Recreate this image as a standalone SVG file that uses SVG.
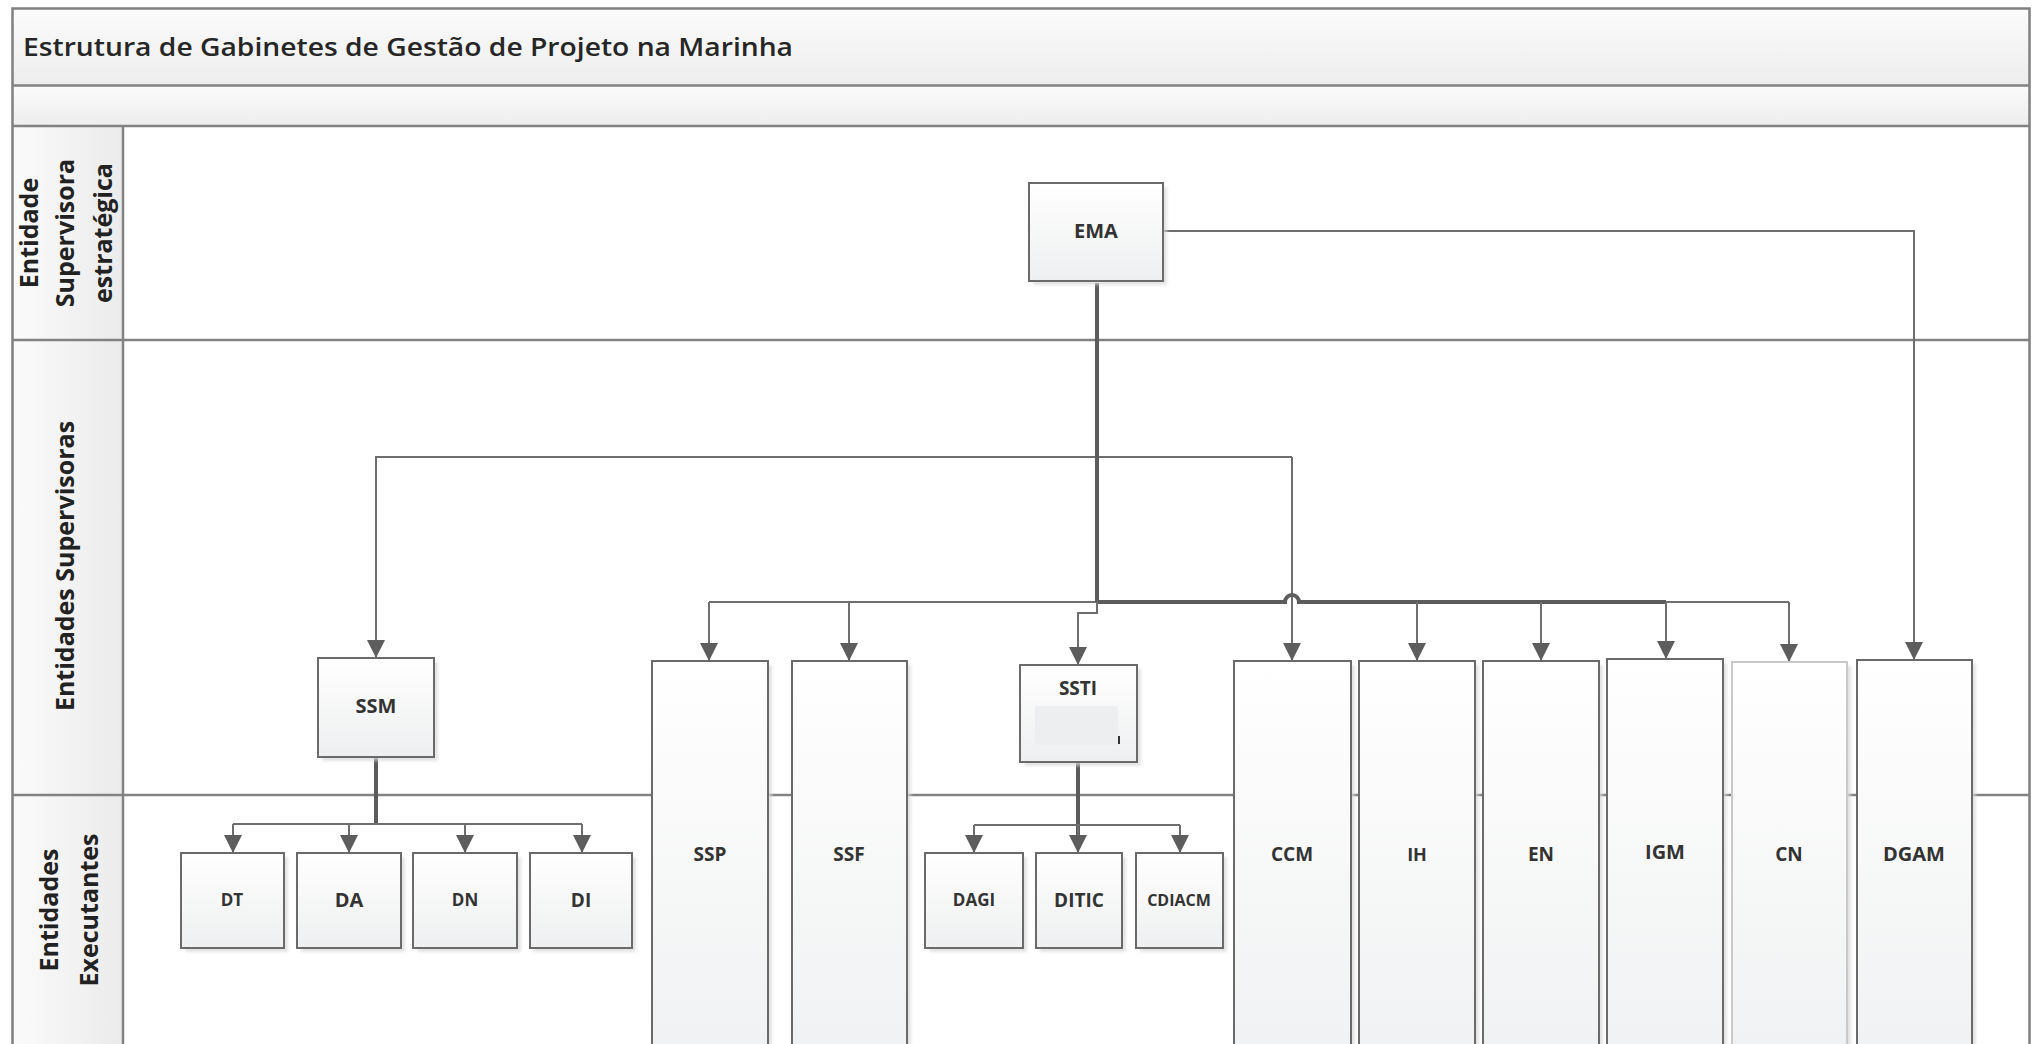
<svg xmlns="http://www.w3.org/2000/svg" width="2033" height="1044" viewBox="0 0 2033 1044">
  <defs>
    <linearGradient id="boxFill" x1="0" y1="0" x2="0" y2="1">
      <stop offset="0" stop-color="#ffffff"/>
      <stop offset="1" stop-color="#eeeff0"/>
    </linearGradient>
    <linearGradient id="tallFill" x1="0" y1="0" x2="0" y2="1">
      <stop offset="0" stop-color="#ffffff"/>
      <stop offset="1" stop-color="#f0f1f2"/>
    </linearGradient>
    <linearGradient id="barFill" x1="0" y1="0" x2="0" y2="1">
      <stop offset="0" stop-color="#fbfbfb"/>
      <stop offset="1" stop-color="#ededed"/>
    </linearGradient>
    <linearGradient id="headFill" x1="0" y1="0" x2="1" y2="0">
      <stop offset="0" stop-color="#fbfbfb"/>
      <stop offset="1" stop-color="#ebebeb"/>
    </linearGradient>
    <marker id="arrow" markerUnits="userSpaceOnUse" markerWidth="18" markerHeight="18" viewBox="0 0 18 18" refX="17" refY="9" orient="auto">
      <path d="M0,0 L18,9 L0,18 Z" fill="#5d5d5d"/>
    </marker>
    <filter id="soft" x="-10%" y="-10%" width="120%" height="120%">
      <feGaussianBlur stdDeviation="1.5"/>
    </filter>
  </defs>
  <style>
    .frame { fill: none; stroke: #808080; stroke-width: 2.5; }
    .lane { stroke: #828282; stroke-width: 2.5; fill: none; }
    .box { fill: url(#boxFill); stroke: #6a6a6a; stroke-width: 2; }
    .tall { fill: url(#tallFill); stroke: #6a6a6a; stroke-width: 2; }
    .faint { stroke: #c9c9c9; }
    .shadow { fill: #d8d8d8; opacity: 0.7; filter: url(#soft); }
    .lbl { font-family: "Open Sans", "DejaVu Sans", sans-serif; font-weight: 700; fill: #333333; text-anchor: middle; }
    .head { font-family: "Open Sans", "DejaVu Sans", sans-serif; font-weight: 700; font-size: 25px; fill: #222222; text-anchor: middle; }
    .title { font-family: "Open Sans", "DejaVu Sans", sans-serif; font-weight: 600; font-size: 26px; fill: #262626; }
    .conn { fill: none; stroke: #6e6e6e; stroke-width: 2; }
    .trunk { fill: none; stroke: #5c5c5c; stroke-width: 4; }
    .arr { marker-end: url(#arrow); }
  </style>

  <rect width="2033" height="1044" fill="#ffffff"/>

  <!-- swimlane frame -->
  <g id="pool">
    <rect x="12.5" y="8.5" width="2017" height="77" fill="url(#barFill)"/>
    <rect x="12.5" y="85.5" width="2017" height="40.5" fill="url(#barFill)"/>
    <rect x="12.5" y="126" width="111" height="930" fill="url(#headFill)"/>
    <rect class="frame" x="12.5" y="8.5" width="2017" height="1050"/>
    <line class="lane" x1="12.5" y1="85.5" x2="2029.5" y2="85.5"/>
    <line class="lane" x1="12.5" y1="126" x2="2029.5" y2="126"/>
    <line class="lane" x1="123" y1="126" x2="123" y2="1058"/>
    <line class="lane" x1="12.5" y1="340" x2="2029.5" y2="340"/>
    <line class="lane" x1="12.5" y1="795" x2="2029.5" y2="795"/>
    <text class="title" x="23" y="56" textLength="770" lengthAdjust="spacingAndGlyphs">Estrutura de Gabinetes de Gestão de Projeto na Marinha</text>
  </g>

  <!-- lane headers -->
  <g id="lane-estrategica">
    <text class="head" transform="translate(38,233) rotate(-90)" font-size="26">Entidade</text>
    <text class="head" transform="translate(74,233) rotate(-90)" font-size="26">Supervisora</text>
    <text class="head" transform="translate(112,233) rotate(-90)" font-size="26">estratégica</text>
  </g>
  <g id="lane-supervisoras">
    <text class="head" transform="translate(74,566) rotate(-90)" font-size="27">Entidades Supervisoras</text>
  </g>
  <g id="lane-executantes">
    <text class="head" transform="translate(58,910) rotate(-90)">Entidades</text>
    <text class="head" transform="translate(98,910) rotate(-90)">Executantes</text>
  </g>

  <!-- connectors -->
  <g id="connectors">
    <!-- EMA to DGAM -->
    <path class="conn arr" d="M1163,231 H1914 V659"/>
    <!-- EMA to SSM (routed over the supervisory lane) -->
    <path class="conn arr" d="M1292,457 H376 V657"/>
    <path class="conn arr" d="M1292,457 V660"/>
    <!-- distribution bus -->
    <path class="conn" d="M709,602 H1097"/>
    <path class="conn" d="M1666,602 H1789"/>
    <path class="trunk" d="M1097,283 V602"/>
    <path class="trunk" d="M1097,602 H1285 A7,7 0 0 1 1299,602 H1666"/>
    <path class="conn arr" d="M709,602 V660"/>
    <path class="conn arr" d="M849,602 V660"/>
    <path class="conn arr" d="M1097,602 V613 H1078 V664"/>
    <path class="conn arr" d="M1417,602 V660"/>
    <path class="conn arr" d="M1541,602 V660"/>
    <path class="conn arr" d="M1666,602 V658"/>
    <path class="conn arr" d="M1789,602 V661"/>
    <!-- SSM to its directorates -->
    <path class="trunk" d="M376,758 V824"/>
    <path class="conn" d="M233,824 H582"/>
    <path class="conn arr" d="M233,824 V852"/>
    <path class="conn arr" d="M349,824 V852"/>
    <path class="conn arr" d="M465,824 V852"/>
    <path class="conn arr" d="M582,824 V852"/>
    <!-- SSTI to its directorates -->
    <path class="trunk" d="M1078,763 V836"/>
    <path class="conn arr" d="M1078,825 V852"/>
    <path class="conn" d="M974,825 H1180"/>
    <path class="conn arr" d="M974,825 V852"/>
    <path class="conn arr" d="M1180,825 V852"/>
  </g>

  <!-- strategic supervisor -->
  <g id="node-EMA">
    <rect class="shadow" x="1033" y="187" width="134" height="98"/>
    <rect class="box" x="1029" y="183" width="134" height="98"/>
    <text class="lbl" x="1096" y="238" font-size="20">EMA</text>
  </g>

  <!-- supervisory entities -->
  <g id="node-SSM">
    <rect class="shadow" x="322" y="662" width="116" height="99"/>
    <rect class="box" x="318" y="658" width="116" height="99"/>
    <text class="lbl" x="376" y="713" font-size="20">SSM</text>
  </g>
  <g id="node-SSTI">
    <rect class="shadow" x="1024" y="669" width="117" height="97"/>
    <rect class="box" x="1020" y="665" width="117" height="97"/>
    <text class="lbl" x="1078" y="695" font-size="19">SSTI</text>
    <rect x="1035" y="706" width="83" height="39" fill="#eceef0"/>
    <rect x="1118" y="736" width="2" height="8" fill="#333333"/>
  </g>

  <!-- tall entities spanning both lanes -->
  <g id="node-SSP">
    <rect class="shadow" x="656" y="665" width="116" height="400"/>
    <rect class="tall" x="652" y="661" width="116" height="400"/>
    <text class="lbl" x="710" y="861" font-size="19">SSP</text>
  </g>
  <g id="node-SSF">
    <rect class="shadow" x="796" y="665" width="115" height="400"/>
    <rect class="tall" x="792" y="661" width="115" height="400"/>
    <text class="lbl" x="849" y="861" font-size="19">SSF</text>
  </g>
  <g id="node-CCM">
    <rect class="shadow" x="1238" y="665" width="117" height="400"/>
    <rect class="tall" x="1234" y="661" width="117" height="400"/>
    <text class="lbl" x="1292" y="861" font-size="19">CCM</text>
  </g>
  <g id="node-IH">
    <rect class="shadow" x="1363" y="665" width="116" height="400"/>
    <rect class="tall" x="1359" y="661" width="116" height="400"/>
    <text class="lbl" x="1417" y="861" font-size="18">IH</text>
  </g>
  <g id="node-EN">
    <rect class="shadow" x="1487" y="665" width="116" height="400"/>
    <rect class="tall" x="1483" y="661" width="116" height="400"/>
    <text class="lbl" x="1541" y="861" font-size="19">EN</text>
  </g>
  <g id="node-IGM">
    <rect class="shadow" x="1611" y="663" width="116" height="400"/>
    <rect class="tall" x="1607" y="659" width="116" height="400"/>
    <text class="lbl" x="1665" y="859" font-size="20">IGM</text>
  </g>
  <g id="node-CN">
    <rect class="shadow" x="1736" y="666" width="115" height="400"/>
    <rect class="tall faint" x="1732" y="662" width="115" height="400"/>
    <text class="lbl" x="1789" y="861" font-size="19">CN</text>
  </g>
  <g id="node-DGAM">
    <rect class="shadow" x="1861" y="664" width="115" height="400"/>
    <rect class="tall" x="1857" y="660" width="115" height="400"/>
    <text class="lbl" x="1914" y="861" font-size="20">DGAM</text>
  </g>

  <!-- executing entities -->
  <g id="node-DT">
    <rect class="shadow" x="185" y="857" width="103" height="95"/>
    <rect class="box" x="181" y="853" width="103" height="95"/>
    <text class="lbl" x="232" y="906" font-size="17">DT</text>
  </g>
  <g id="node-DA">
    <rect class="shadow" x="301" y="857" width="104" height="95"/>
    <rect class="box" x="297" y="853" width="104" height="95"/>
    <text class="lbl" x="349" y="907" font-size="20">DA</text>
  </g>
  <g id="node-DN">
    <rect class="shadow" x="417" y="857" width="104" height="95"/>
    <rect class="box" x="413" y="853" width="104" height="95"/>
    <text class="lbl" x="465" y="906" font-size="17">DN</text>
  </g>
  <g id="node-DI">
    <rect class="shadow" x="534" y="857" width="102" height="95"/>
    <rect class="box" x="530" y="853" width="102" height="95"/>
    <text class="lbl" x="581" y="907" font-size="19">DI</text>
  </g>
  <g id="node-DAGI">
    <rect class="shadow" x="929" y="857" width="98" height="95"/>
    <rect class="box" x="925" y="853" width="98" height="95"/>
    <text class="lbl" x="974" y="906" font-size="17">DAGI</text>
  </g>
  <g id="node-DITIC">
    <rect class="shadow" x="1040" y="857" width="86" height="95"/>
    <rect class="box" x="1036" y="853" width="86" height="95"/>
    <text class="lbl" x="1079" y="907" font-size="19">DITIC</text>
  </g>
  <g id="node-CDIACM">
    <rect class="shadow" x="1140" y="857" width="87" height="95"/>
    <rect class="box" x="1136" y="853" width="87" height="95"/>
    <text class="lbl" x="1179" y="906" font-size="16">CDIACM</text>
  </g>
</svg>
